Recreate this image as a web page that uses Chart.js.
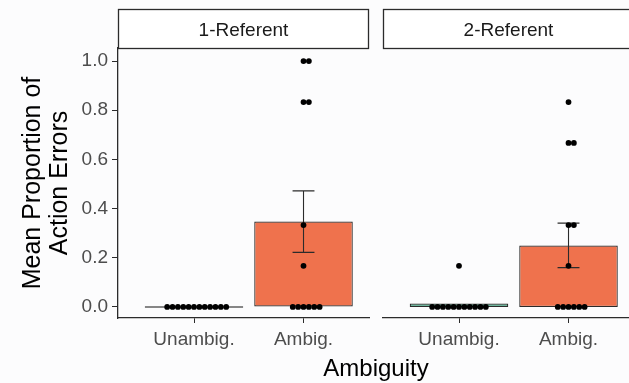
<!DOCTYPE html>
<html>
<head>
<meta charset="utf-8">
<title>Action errors by ambiguity</title>
<script src="https://cdn.jsdelivr.net/npm/chart.js@4.4.1/dist/chart.umd.min.js"></script>
<style>
  html, body { margin: 0; padding: 0; background: #fcfcfd; overflow: hidden; width: 629px; height: 383px; }
  #wrap { position: relative; width: 629px; height: 383px; overflow: hidden; }
  #panelA { position: absolute; left: 0; top: 0; }
  #panelB { position: absolute; left: 380px; top: 0; }
  #xTitle { position: absolute; left: 276px; top: 356px; width: 200px; text-align: center;
            font: 24px/24px 'Liberation Sans', Arial, sans-serif; color: #000; }
</style>
</head>
<body>
<div id="wrap">
  <canvas id="panelA" width="372" height="383"></canvas>
  <canvas id="panelB" width="257" height="383"></canvas>
  <div id="xTitle">Ambiguity</div>
</div>
<script>
// Facets and conditions
const panels = ['1-Referent', '2-Referent'];
const categories = ['Unambig.', 'Ambig.'];

// Condition means (bar heights)
const oneRefMeans = [0, 0.347];
const twoRefMeans = [0.014, 0.25];

// Standard-error bounds (none drawn for the unambiguous condition)
const oneRefErrLow  = [null, 0.222];
const oneRefErrHigh = [null, 0.472];
const twoRefErrLow  = [null, 0.16];
const twoRefErrHigh = [null, 0.341];

// Per-participant proportions
const oneRefUnambigSubjects = [0, 0, 0, 0, 0, 0, 0, 0, 0, 0, 0, 0];
const oneRefAmbigSubjects   = [1, 1, 0.833, 0.833, 0.333, 0.167, 0, 0, 0, 0, 0, 0];
const twoRefUnambigSubjects = [0.167, 0, 0, 0, 0, 0, 0, 0, 0, 0, 0, 0];
const twoRefAmbigSubjects   = [0.833, 0.667, 0.667, 0.333, 0.333, 0.167, 0, 0, 0, 0, 0, 0];

// Axis ticks
const yTickValues = [0, 0.2, 0.4, 0.6, 0.8, 1.0];

const FONT = "'Liberation Sans', Arial, sans-serif";
const TEAL = '#4fae8c';
const CORAL = '#ef724d';
const INK = '#2b2b2b';
const DOT_STEP = 0.049;      // horizontal spacing of stacked dots, in category units
const X_MIN = -0.694, X_MAX = 1.598;
const Y_MIN = -0.045, Y_MAX = 1.053;

Chart.defaults.font.family = FONT;
Chart.defaults.animation = false;

// Dot-plot stacking: equal values sit side by side, centred on the category
function stackDots(values, catIndex) {
  const counts = new Map();
  values.forEach(v => counts.set(v, (counts.get(v) || 0) + 1));
  const pts = [];
  counts.forEach((n, v) => {
    const first = Math.floor((n - 1) / 2);
    for (let j = 0; j < n; j++) pts.push({ x: catIndex + (j - first) * DOT_STEP, y: v });
  });
  return pts;
}

// Facet strip above the panel
const stripPlugin = {
  id: 'strip',
  afterDraw(chart, args, opts) {
    const { ctx, chartArea: a } = chart;
    const top = a.top - opts.height;
    ctx.save();
    ctx.fillStyle = '#ffffff';
    ctx.fillRect(a.left, top, a.right - a.left, opts.height);
    ctx.strokeStyle = INK;
    ctx.lineWidth = 1.3;
    ctx.strokeRect(a.left + 0.5, top + 0.5, a.right - a.left - 1, opts.height);
    ctx.fillStyle = '#1a1a1a';
    ctx.font = '19px ' + FONT;
    ctx.textAlign = 'center';
    ctx.textBaseline = 'middle';
    ctx.fillText(opts.label, (a.left + a.right) / 2, top + opts.height / 2 + 2);
    ctx.restore();
  }
};

// Error bars drawn over the bars, under the dots
const errorBarPlugin = {
  id: 'errorBars',
  afterDatasetDraw(chart, args, opts) {
    if (args.index !== 0) return;
    const { ctx } = chart;
    const xs = chart.scales.x, ys = chart.scales.y;
    ctx.save();
    ctx.strokeStyle = INK;
    ctx.lineWidth = 1.1;
    opts.low.forEach((lo, i) => {
      const hi = opts.high[i];
      if (lo == null || hi == null) return;
      const px = xs.getPixelForValue(i);
      const half = xs.getPixelForValue(i + opts.capWidth / 2) - px;
      const yLo = ys.getPixelForValue(lo), yHi = ys.getPixelForValue(hi);
      ctx.beginPath();
      ctx.moveTo(px, yLo); ctx.lineTo(px, yHi);
      ctx.moveTo(px - half, yLo); ctx.lineTo(px + half, yLo);
      ctx.moveTo(px - half, yHi); ctx.lineTo(px + half, yHi);
      ctx.stroke();
    });
    ctx.restore();
  }
};

function makePanel(canvasId, label, means, errLow, errHigh, subjects, showY, padding) {
  const dots = subjects.flatMap((vals, i) => stackDots(vals, i));
  return new Chart(document.getElementById(canvasId), {
    type: 'bar',
    data: {
      datasets: [
        {
          type: 'bar',
          order: 2,
          data: means.map((m, i) => ({ x: i, y: m })),
          backgroundColor: [TEAL, CORAL],
          borderColor: INK,
          borderWidth: 1.2,
          borderSkipped: false,
          barPercentage: 0.9,
          categoryPercentage: 1,
          minBarLength: 1.4
        },
        {
          type: 'scatter',
          order: 1,
          data: dots,
          showLine: false,
          pointRadius: 2.9,
          pointHoverRadius: 2.9,
          backgroundColor: '#000000',
          borderWidth: 0
        }
      ]
    },
    options: {
      responsive: false,
      animation: false,
      events: [],
      layout: { padding: padding },
      plugins: {
        legend: { display: false },
        tooltip: { enabled: false },
        strip: { label: label, height: 39 },
        errorBars: { low: errLow, high: errHigh, capWidth: 0.2 }
      },
      scales: {
        x: {
          type: 'linear',
          offset: false,
          min: X_MIN,
          max: X_MAX,
          afterBuildTicks: s => { s.ticks = categories.map((c, i) => ({ value: i })); },
          afterFit: s => { s.height = 65; },
          ticks: {
            callback: v => categories[v],
            font: { size: 19 },
            color: '#4d4d4d',
            padding: 5,
            maxRotation: 0,
            autoSkip: false
          },
          grid: { display: true, offset: false, drawOnChartArea: false, drawTicks: true, tickLength: 5, color: INK },
          border: { display: true, color: INK, width: 1.3 }
        },
        y: {
          type: 'linear',
          display: showY,
          min: Y_MIN,
          max: Y_MAX,
          afterBuildTicks: s => { s.ticks = yTickValues.map(v => ({ value: v })); },
          afterFit: s => { if (showY) s.width = 118; },
          ticks: {
            callback: v => v.toFixed(1),
            font: { size: 19 },
            color: '#4d4d4d',
            padding: 4
          },
          grid: { display: true, drawOnChartArea: false, drawTicks: true, tickLength: 6, color: INK },
          border: { display: true, color: INK, width: 1.3 },
          title: {
            display: true,
            text: ['Mean Proportion of', 'Action Errors'],
            font: { size: 25, lineHeight: 1.08 },
            color: '#000000',
            padding: { top: 20, bottom: 0 }
          }
        }
      }
    },
    plugins: [stripPlugin, errorBarPlugin]
  });
}

makePanel('panelA', panels[0], oneRefMeans, oneRefErrLow, oneRefErrHigh,
          [oneRefUnambigSubjects, oneRefAmbigSubjects], true,
          { left: 0, right: 3, top: 48, bottom: 0 });
makePanel('panelB', panels[1], twoRefMeans, twoRefErrLow, twoRefErrHigh,
          [twoRefUnambigSubjects, twoRefAmbigSubjects], false,
          { left: 3, right: 3, top: 48, bottom: 0 });
</script>
</body>
</html>
